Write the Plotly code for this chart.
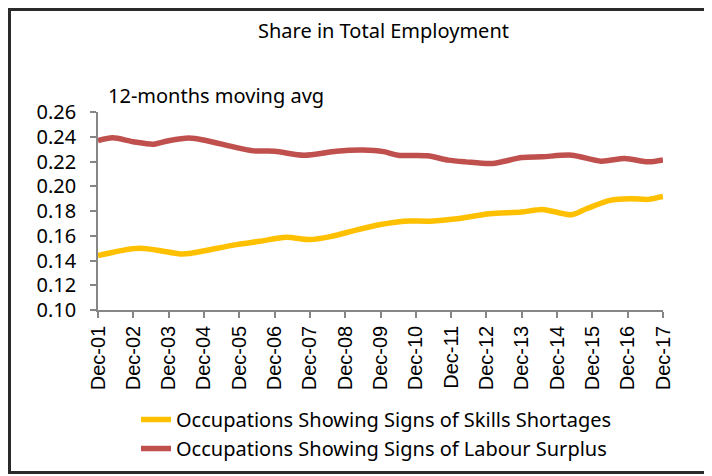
import plotly.graph_objects as go

# ---- data ----
surplus_dates = ["2001-12-01", "2002-05-01", "2002-12-01", "2003-07-01", "2003-12-01",
                 "2004-07-01", "2005-01-01", "2005-10-01", "2006-05-01", "2006-12-01",
                 "2007-10-01", "2008-09-01", "2009-06-01", "2010-01-01", "2010-06-01",
                 "2011-04-01", "2011-11-01", "2012-05-01", "2013-02-01", "2013-12-01",
                 "2014-07-01", "2015-05-01", "2016-03-01", "2016-11-01", "2017-07-01",
                 "2017-12-01"]
surplus_values = [0.2368, 0.2392, 0.2360, 0.2340, 0.2368,
                  0.2390, 0.2368, 0.2318, 0.2286, 0.2283,
                  0.2251, 0.2283, 0.2292, 0.2280, 0.2251,
                  0.2246, 0.2211, 0.2197, 0.2184, 0.2232,
                  0.2238, 0.2251, 0.2203, 0.2224, 0.2197,
                  0.2213]

shortage_dates = ["2001-12-01", "2003-02-01", "2004-04-01", "2004-07-01", "2005-11-01",
                  "2006-07-01", "2007-04-01", "2007-12-01", "2008-07-01", "2009-04-01",
                  "2009-12-01", "2010-08-01", "2011-05-01", "2012-02-01", "2013-01-01",
                  "2013-12-01", "2014-07-01", "2015-05-01", "2015-10-01", "2016-06-01",
                  "2017-01-01", "2017-07-01", "2017-12-01"]
shortage_values = [0.1439, 0.1498, 0.1453, 0.1456, 0.1528,
                   0.1555, 0.1588, 0.1569, 0.1593, 0.1648,
                   0.1691, 0.1718, 0.1718, 0.1737, 0.1778,
                   0.1791, 0.1813, 0.1770, 0.1818, 0.1886,
                   0.1899, 0.1894, 0.1917]

tick_dates = [f"{y}-12-01" for y in range(2001, 2018)]
tick_labels = [f"Dec-{y % 100:02d}" for y in range(2001, 2018)]
y_ticks = [0.10, 0.12, 0.14, 0.16, 0.18, 0.20, 0.22, 0.24, 0.26]

series_names = ["Occupations Showing Signs of Skills Shortages",
                "Occupations Showing Signs of Labour Surplus"]
title_text = "Share in Total Employment"
subtitle_text = "12-months moving avg"

FONT = "Noto Sans"
FS = 20

fig = go.Figure()
fig.add_trace(go.Scatter(
    x=shortage_dates, y=shortage_values, mode="lines", name=series_names[0],
    line=dict(color="#FFC000", width=5.5, shape="spline", smoothing=0.8),
    legendgroup="a"))
fig.add_trace(go.Scatter(
    x=surplus_dates, y=surplus_values, mode="lines", name=series_names[1],
    line=dict(color="#C0504D", width=5.5, shape="spline", smoothing=0.8),
    legendgroup="b"))

# positions below are given in window pixels; the figure sits at (8, 8)
OFF = 8
W, H = 704, 494
L, R, T, B = 90, 49, 104, 192
pw, ph = W - L - R, H - T - B


def px_x(px):
    return (px - OFF - L) / pw


def px_y(py):
    return (H - B - (py - OFF)) / ph


fig.update_layout(
    width=W, height=H,
    margin=dict(l=L, r=R, t=T, b=B),
    paper_bgcolor="white", plot_bgcolor="white",
    font=dict(family=FONT, size=FS, color="black"),
    showlegend=True,
    legend=dict(x=px_x(136), y=px_y(400), xanchor="left", yanchor="top",
                font=dict(family=FONT, size=FS, color="black"),
                tracegroupgap=0, bgcolor="rgba(0,0,0,0)"),
    xaxis=dict(
        type="date", range=["2001-12-01", "2017-12-01"],
        tickmode="array", tickvals=tick_dates, ticktext=tick_labels,
        tickangle=-90, ticks="outside", ticklen=6, tickcolor="#868686",
        tickwidth=1.5,
        showline=True, linecolor="#868686", linewidth=1.5,
        showgrid=False, zeroline=False,
        tickfont=dict(family="Liberation Sans", size=FS, color="black"),
    ),
    yaxis=dict(
        range=[0.10, 0.26], tickmode="array", tickvals=y_ticks,
        tickformat=".2f", ticks="outside", ticklen=6, tickcolor="#868686",
        tickwidth=1.5, ticklabelstandoff=10,
        showline=True, linecolor="#868686", linewidth=1.5,
        showgrid=False, zeroline=False,
        tickfont=dict(family=FONT, size=20, color="black"),
    ),
    annotations=[
        dict(text=title_text, xref="paper", yref="paper",
             x=px_x(383), y=px_y(31), xanchor="center", yanchor="middle",
             showarrow=False, font=dict(family=FONT, size=FS, color="black")),
        dict(text=subtitle_text, xref="paper", yref="paper",
             x=px_x(106), y=px_y(96), xanchor="left", yanchor="middle",
             showarrow=False, font=dict(family=FONT, size=FS, color="black")),
    ],
    shapes=[
        dict(type="rect", xref="paper", yref="paper",
             x0=px_x(9.5), x1=px_x(709), y0=px_y(472.5), y1=px_y(9.5),
             line=dict(color="#2a2a2a", width=3), fillcolor="rgba(0,0,0,0)",
             layer="above"),
    ],
)

fig.write_html("out.html")
